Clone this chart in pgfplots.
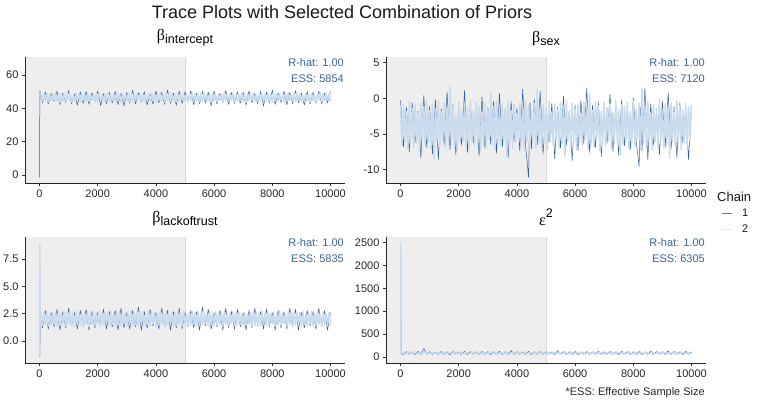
\documentclass[border=0pt]{standalone}
\usepackage{fontspec}
\setmainfont{Liberation Sans}
\newfontfamily\grk{Liberation Serif}
\usepackage{pgfplots}
\pgfplotsset{compat=1.18}
\definecolor{cdark}{HTML}{2F5E96}
\definecolor{clight}{HTML}{C9DCEE}
\definecolor{warm}{HTML}{EEEEEE}
\definecolor{warmedge}{HTML}{DADADA}
\definecolor{annot}{HTML}{3A639A}
\definecolor{legdark}{HTML}{5B80B0}
\definecolor{leglight}{HTML}{DCE8F4}
\pgfplotsset{
  trace/.style={
    scale only axis, width=320pt, height=126pt,
    axis lines*=left, axis on top,
    xmin=-500, xmax=10500, xtick={0,2000,4000,6000,8000,10000},
    scaled x ticks=false, scaled y ticks=false,
    tick align=outside, major tick length=3pt,
    tick style={black!80, line width=0.5pt},
    axis line style={black!85, line width=0.6pt},
    ticklabel style={font=\fontsize{11}{11}\selectfont, text=black!85},
    /pgf/number format/1000 sep={},
    /pgf/number format/assume math mode=true,
    title style={at={(0.5,1)}, anchor=south, inner sep=0pt, yshift=5pt},
    clip=true,
  },
  c1/.style={cdark, line width=0.5pt, line join=round},
  c2/.style={clight, line width=1.5pt, line join=round},
}
\newcommand{\annot}[1]{\node[anchor=north east, align=right, inner sep=0pt, font=\fontsize{11}{15.5}\selectfont, text=annot] at (rel axis cs:1,1) [xshift=-1pt, yshift=-1.5pt] {R-hat: 1.00\\ESS: #1};}
\newcommand{\bt}[1]{{\grk\fontsize{16}{16}\selectfont β}{\fontsize{12.5}{12.5}\selectfont\raisebox{-3pt}{#1}}}
\begin{document}
\begin{tikzpicture}
\path[use as bounding box] (0pt,0pt) rectangle (758pt,-401pt);
\node[anchor=base, font=\fontsize{18}{18}\selectfont, text=black!90] at (342pt,-18.5pt) {Trace Plots with Selected Combination of Priors};

% ---------- beta intercept
\begin{axis}[trace, at={(25pt,-183pt)}, anchor=south west,
  ymin=-4.8, ymax=70.8, ytick={0,20,40,60},
  title={\bt{intercept}}]
\fill[warm] (axis cs:-500,-4.8) rectangle (axis cs:5000,70.8);
\draw[warmedge, line width=0.6pt] (axis cs:5000,-4.8) -- (axis cs:5000,70.8);
\addplot[c1] coordinates {(0,-1.4)(10,50.6)(100,43.2)(200,49.8)(300,42.6)(400,48.9)(500,44.1)(600,50.3)(700,42.1)(800,49.2)(900,43.5)(1000,50.7)(1100,42.8)(1200,48.6)(1300,41.9)(1400,49.9)(1500,43.0)(1600,50.1)(1700,42.4)(1800,49.4)(1900,43.8)(2000,50.5)(2100,41.7)(2200,48.8)(2300,42.9)(2400,49.7)(2500,43.3)(2600,50.2)(2700,42.2)(2800,49.0)(2900,41.5)(3000,49.6)(3100,43.1)(3200,50.8)(3300,42.7)(3400,49.3)(3500,43.6)(3600,50.0)(3700,42.0)(3800,48.7)(3900,42.5)(4000,50.4)(4100,43.4)(4200,49.5)(4300,42.3)(4400,50.9)(4500,43.0)(4600,49.1)(4700,41.8)(4800,50.3)(4900,42.9)(5000,49.8)(5100,43.7)(5200,50.6)(5300,42.1)(5400,49.2)(5500,42.8)(5600,50.1)(5700,43.2)(5800,49.7)(5900,41.6)(6000,50.4)(6100,42.6)(6200,49.0)(6300,43.5)(6400,50.7)(6500,42.3)(6600,49.4)(6700,42.9)(6800,50.0)(6900,43.1)(7000,49.6)(7100,42.0)(7200,50.5)(7300,43.4)(7400,48.9)(7500,42.7)(7600,50.2)(7700,41.4)(7800,49.8)(7900,43.0)(8000,50.9)(8100,42.4)(8200,49.3)(8300,43.6)(8400,50.3)(8500,42.2)(8600,49.5)(8700,42.8)(8800,50.6)(8900,43.3)(9000,49.1)(9100,41.9)(9200,50.0)(9300,42.6)(9400,49.7)(9500,43.1)(9600,50.4)(9700,42.5)(9800,49.2)(9900,43.4)(10000,50.1)};
\addplot[c2] coordinates {(0,48.0)(50,48.9)(100,44.3)(150,48.2)(200,44.8)(250,49.1)(300,43.9)(350,47.9)(400,44.5)(450,48.6)(500,45.0)(550,49.3)(600,44.1)(650,48.0)(700,43.7)(750,48.7)(800,44.6)(850,49.0)(900,44.2)(950,48.3)(1000,44.9)(1050,48.8)(1100,43.8)(1150,47.8)(1200,44.4)(1250,49.2)(1300,45.1)(1350,48.4)(1400,44.0)(1450,48.9)(1500,44.7)(1550,48.1)(1600,43.9)(1650,49.4)(1700,44.3)(1750,48.5)(1800,44.8)(1850,48.0)(1900,44.1)(1950,48.8)(2000,43.6)(2050,49.1)(2100,44.5)(2150,48.2)(2200,45.0)(2250,48.7)(2300,44.2)(2350,49.0)(2400,43.8)(2450,47.9)(2500,44.6)(2550,48.6)(2600,44.0)(2650,49.3)(2700,44.9)(2750,48.3)(2800,43.7)(2850,48.9)(2900,44.4)(2950,48.1)(3000,44.8)(3050,48.5)(3100,44.1)(3150,49.2)(3200,43.9)(3250,48.0)(3300,44.6)(3350,48.8)(3400,45.2)(3450,49.0)(3500,44.3)(3550,48.4)(3600,43.8)(3650,47.9)(3700,44.7)(3750,48.7)(3800,44.0)(3850,49.1)(3900,44.5)(3950,48.2)(4000,43.9)(4050,48.6)(4100,44.9)(4150,49.3)(4200,44.2)(4250,48.0)(4300,43.7)(4350,48.9)(4400,44.6)(4450,48.4)(4500,44.1)(4550,49.0)(4600,44.8)(4650,48.1)(4700,43.8)(4750,48.7)(4800,44.4)(4850,49.2)(4900,45.0)(4950,48.3)(5000,44.0)(5050,48.8)(5100,43.9)(5150,47.8)(5200,44.7)(5250,49.0)(5300,44.3)(5350,48.5)(5400,44.6)(5450,48.2)(5500,43.8)(5550,48.9)(5600,44.1)(5650,49.3)(5700,44.9)(5750,48.1)(5800,44.2)(5850,48.6)(5900,43.7)(5950,49.1)(6000,44.5)(6050,48.4)(6100,44.0)(6150,48.0)(6200,44.8)(6250,48.8)(6300,43.9)(6350,49.2)(6400,44.6)(6450,48.3)(6500,44.2)(6550,48.7)(6600,45.1)(6650,49.0)(6700,43.8)(6750,47.9)(6800,44.4)(6850,48.5)(6900,44.7)(6950,49.1)(7000,44.0)(7050,48.2)(7100,43.6)(7150,48.8)(7200,44.5)(7250,48.4)(7300,44.9)(7350,49.3)(7400,44.1)(7450,48.0)(7500,43.9)(7550,48.6)(7600,44.6)(7650,48.9)(7700,44.3)(7750,48.3)(7800,44.8)(7850,49.0)(7900,44.0)(7950,48.1)(8000,43.7)(8050,48.7)(8100,44.5)(8150,49.2)(8200,44.2)(8250,48.4)(8300,45.0)(8350,48.0)(8400,43.8)(8450,48.8)(8500,44.4)(8550,49.1)(8600,44.7)(8650,48.2)(8700,44.1)(8750,48.6)(8800,43.9)(8850,49.3)(8900,44.6)(8950,48.5)(9000,44.3)(9050,47.9)(9100,44.8)(9150,48.9)(9200,44.0)(9250,48.3)(9300,43.8)(9350,49.0)(9400,44.5)(9450,48.1)(9500,44.2)(9550,48.7)(9600,44.9)(9650,49.2)(9700,43.9)(9750,48.4)(9800,44.4)(9850,48.8)(9900,44.7)(9950,48.6)(10000,44.1)};
\annot{5854}
\end{axis}

% ---------- beta sex
\begin{axis}[trace, at={(386pt,-183pt)}, anchor=south west,
  ymin=-11.9, ymax=5.8, ytick={-10,-5,0,5},
  title={\bt{sex}}]
\fill[warm] (axis cs:-500,-11.9) rectangle (axis cs:5000,5.8);
\draw[warmedge, line width=0.6pt] (axis cs:5000,-11.9) -- (axis cs:5000,5.8);
\addplot[c1] coordinates {(0,-0.3)(100,-6.8)(200,-1.2)(300,-7.5)(400,-0.6)(500,-6.2)(600,-1.8)(700,-8.4)(800,0.4)(900,-6.9)(1000,-1.1)(1100,-7.8)(1200,-0.2)(1300,-8.6)(1400,-1.5)(1500,-6.5)(1600,0.9)(1700,-7.2)(1800,-0.8)(1900,-7.9)(2000,-2.0)(2100,-6.6)(2200,1.1)(2300,-7.6)(2400,-0.9)(2500,-6.3)(2600,-1.7)(2700,-8.1)(2800,0.2)(2900,-7.0)(3000,-1.3)(3100,-6.4)(3200,-0.4)(3300,-7.7)(3400,0.7)(3500,-6.8)(3600,-1.9)(3700,-8.3)(3800,-0.5)(3900,-6.1)(4000,-1.4)(4100,-7.4)(4200,1.3)(4300,-6.7)(4400,-11.1)(4450,-0.6)(4500,-7.1)(4600,-0.1)(4700,-6.5)(4800,1.0)(4900,-7.8)(5000,-1.6)(5100,-6.2)(5200,-0.7)(5300,-8.5)(5400,-1.2)(5500,-7.0)(5600,0.3)(5700,-6.6)(5800,-1.8)(5900,-8.8)(6000,-0.9)(6100,-7.3)(6200,-0.3)(6300,-6.4)(6400,1.4)(6500,-7.6)(6600,-1.0)(6700,-6.9)(6800,-0.5)(6900,-8.2)(7000,-1.7)(7100,-6.3)(7200,0.6)(7300,-7.5)(7400,-1.1)(7500,-8.0)(7600,-0.2)(7700,-6.7)(7800,-1.5)(7900,-7.2)(8000,0.1)(8100,-6.0)(8200,-9.6)(8250,-1.3)(8300,-7.4)(8400,1.5)(8500,-8.7)(8600,-0.8)(8700,-6.6)(8800,-1.9)(8900,-7.9)(9000,-0.4)(9100,-6.8)(9200,0.8)(9300,-7.1)(9400,-1.2)(9500,-8.4)(9600,-0.6)(9700,-6.2)(9800,-1.6)(9900,-8.6)(10000,-1.0)};
\addplot[c2] coordinates {(0,-1.0)(50,-6.6)(100,-0.8)(150,-6.0)(200,-1.9)(250,-7.1)(300,-0.5)(350,-5.8)(400,-1.4)(450,-6.9)(500,-0.9)(550,-6.3)(600,-2.1)(650,-7.4)(700,-0.6)(750,-5.9)(800,-1.2)(850,-6.7)(900,-0.3)(950,-6.1)(1000,-1.7)(1050,-7.2)(1100,-0.8)(1150,-8.5)(1200,-1.5)(1250,-6.0)(1300,-0.4)(1350,-6.8)(1400,-1.9)(1450,-5.7)(1500,-0.7)(1550,-7.0)(1600,-1.3)(1650,-6.4)(1700,1.6)(1750,-5.8)(1800,-1.0)(1850,-6.9)(1900,-2.2)(1950,-7.3)(2000,-0.5)(2050,-6.2)(2100,-1.6)(2150,-5.9)(2200,-0.9)(2250,-6.6)(2300,-1.4)(2350,-7.1)(2400,-0.2)(2450,-6.0)(2500,-1.8)(2550,-6.8)(2600,-0.6)(2650,-5.7)(2700,-1.1)(2750,-7.4)(2800,-2.0)(2850,-6.3)(2900,-0.7)(2950,-6.9)(3000,-1.5)(3050,-5.8)(3100,0.9)(3150,-6.5)(3200,-1.2)(3250,-7.2)(3300,-0.4)(3350,-6.1)(3400,-1.9)(3450,-6.7)(3500,-0.8)(3550,-5.9)(3600,-1.3)(3650,-8.3)(3700,-0.5)(3750,-6.4)(3800,-1.7)(3850,-7.0)(3900,-0.9)(3950,-6.2)(4000,-2.1)(4050,-5.7)(4100,-0.6)(4150,-6.8)(4200,-1.4)(4250,-7.3)(4300,-0.3)(4350,-6.0)(4400,-1.0)(4450,-6.6)(4500,-1.8)(4550,-5.9)(4600,-0.7)(4650,-7.1)(4700,1.2)(4750,-6.3)(4800,-1.5)(4850,-6.9)(4900,-0.9)(4950,-5.8)(5000,-1.3)(5050,-7.2)(5100,-0.4)(5150,-6.1)(5200,-2.0)(5250,-6.7)(5300,-0.8)(5350,-5.7)(5400,-1.6)(5450,-7.0)(5500,-0.5)(5550,-6.4)(5600,-1.1)(5650,-8.2)(5700,-0.2)(5750,-6.0)(5800,-1.9)(5850,-6.8)(5900,-0.7)(5950,-5.9)(6000,-1.4)(6050,-7.3)(6100,-0.9)(6150,-6.2)(6200,-2.2)(6250,-6.6)(6300,-0.6)(6350,-5.8)(6400,-1.2)(6450,-7.1)(6500,0.6)(6550,-6.3)(6600,-1.7)(6650,-6.9)(6700,-0.4)(6750,-5.7)(6800,-1.0)(6850,-7.4)(6900,-1.8)(6950,-6.1)(7000,-0.5)(7050,-6.7)(7100,-1.3)(7150,-5.9)(7200,-0.8)(7250,-7.0)(7300,-2.0)(7350,-6.4)(7400,-0.3)(7450,-6.0)(7500,-1.6)(7550,-8.0)(7600,-0.9)(7650,-6.5)(7700,-1.1)(7750,-5.8)(7800,-0.6)(7850,-7.2)(7900,-1.9)(7950,-6.2)(8000,-0.4)(8050,-6.8)(8100,-1.5)(8150,-5.7)(8200,-0.7)(8250,-7.1)(8300,1.3)(8350,-6.3)(8400,-1.2)(8450,-6.9)(8500,-0.5)(8550,-5.9)(8600,-2.1)(8650,-7.3)(8700,-0.9)(8750,-6.0)(8800,-1.4)(8850,-6.6)(8900,-0.2)(8950,-5.8)(9000,-1.7)(9050,-7.0)(9100,-0.8)(9150,-6.4)(9200,-1.3)(9250,-8.4)(9300,-0.6)(9350,-6.1)(9400,-1.9)(9450,-6.7)(9500,-0.4)(9550,-5.9)(9600,-1.0)(9650,-7.2)(9700,-1.6)(9750,-6.3)(9800,-0.7)(9850,-6.8)(9900,-1.2)(9950,-6.0)(10000,-0.9)};
\annot{7120}
\end{axis}

% ---------- beta lackoftrust
\begin{axis}[trace, at={(25pt,-363pt)}, anchor=south west,
  ymin=-2.0, ymax=9.5, ytick={0,2.5,5,7.5},
  yticklabel style={/pgf/number format/.cd, fixed, fixed zerofill, precision=1},
  title={\bt{lackoftrust}}]
\fill[warm] (axis cs:-500,-2.0) rectangle (axis cs:5000,9.5);
\draw[warmedge, line width=0.6pt] (axis cs:5000,-2.0) -- (axis cs:5000,9.5);
\addplot[c1] coordinates {(0,8.6)(10,-1.4)(30,2.7)(100,1.2)(200,2.8)(300,1.1)(400,2.6)(500,1.3)(600,2.9)(700,1.0)(800,2.7)(900,1.2)(1000,3.0)(1100,1.4)(1200,2.6)(1300,1.1)(1400,2.8)(1500,1.3)(1600,2.9)(1700,1.0)(1800,2.7)(1900,1.2)(2000,2.6)(2100,1.4)(2200,2.9)(2300,1.1)(2400,2.7)(2500,1.3)(2600,2.8)(2700,1.0)(2800,3.0)(2900,1.2)(3000,2.6)(3100,1.1)(3200,2.8)(3300,1.3)(3400,3.1)(3500,1.0)(3600,2.7)(3700,1.2)(3800,2.9)(3900,1.4)(4000,2.6)(4100,1.1)(4200,3.0)(4300,1.3)(4400,2.8)(4500,1.0)(4600,2.7)(4700,1.2)(4800,3.0)(4900,1.1)(5000,2.6)(5100,1.3)(5200,2.8)(5300,1.2)(5400,2.7)(5500,1.0)(5600,3.1)(5700,1.4)(5800,2.9)(5900,1.1)(6000,2.6)(6100,1.3)(6200,2.8)(6300,1.0)(6400,3.0)(6500,1.2)(6600,2.7)(6700,1.1)(6800,2.9)(6900,1.3)(7000,2.6)(7100,1.0)(7200,2.8)(7300,1.2)(7400,3.0)(7500,1.4)(7600,2.7)(7700,1.1)(7800,2.9)(7900,1.3)(8000,2.6)(8100,1.0)(8200,2.8)(8300,1.2)(8400,2.7)(8500,1.1)(8600,3.0)(8700,1.3)(8800,2.9)(8900,1.0)(9000,2.6)(9100,1.2)(9200,2.8)(9300,1.4)(9400,2.7)(9500,1.1)(9600,3.0)(9700,1.3)(9800,2.8)(9900,1.0)(10000,2.6)};
\addplot[c2] coordinates {(0,-1.3)(10,8.8)(30,1.5)(50,2.62)(100,1.41)(150,2.55)(200,1.52)(250,2.70)(300,1.36)(350,2.48)(400,1.47)(450,2.66)(500,1.55)(550,2.58)(600,1.33)(650,2.73)(700,1.44)(750,2.51)(800,1.58)(850,2.64)(900,1.39)(950,2.46)(1000,1.50)(1050,2.69)(1100,1.42)(1150,2.57)(1200,1.35)(1250,2.72)(1300,1.53)(1350,2.50)(1400,1.45)(1450,2.63)(1500,1.38)(1550,2.55)(1600,1.56)(1650,2.68)(1700,1.31)(1750,2.47)(1800,1.49)(1850,2.65)(1900,1.43)(1950,2.59)(2000,1.54)(2050,2.71)(2100,1.37)(2150,2.52)(2200,1.46)(2250,2.67)(2300,1.57)(2350,2.49)(2400,1.40)(2450,2.74)(2500,1.51)(2550,2.56)(2600,1.34)(2650,2.62)(2700,1.48)(2750,2.70)(2800,1.44)(2850,2.53)(2900,1.59)(2950,2.66)(3000,1.36)(3050,2.48)(3100,1.52)(3150,2.73)(3200,1.41)(3250,2.58)(3300,1.47)(3350,2.64)(3400,1.33)(3450,2.51)(3500,1.55)(3550,2.69)(3600,1.39)(3650,2.46)(3700,1.50)(3750,2.72)(3800,1.42)(3850,2.57)(3900,1.58)(3950,2.63)(4000,1.35)(4050,2.50)(4100,1.45)(4150,2.68)(4200,1.53)(4250,2.55)(4300,1.38)(4350,2.71)(4400,1.49)(4450,2.47)(4500,1.56)(4550,2.65)(4600,1.32)(4650,2.59)(4700,1.43)(4750,2.74)(4800,1.51)(4850,2.52)(4900,1.37)(4950,2.67)(5000,1.54)(5050,2.49)(5100,1.40)(5150,2.62)(5200,1.46)(5250,2.70)(5300,1.57)(5350,2.56)(5400,1.34)(5450,2.64)(5500,1.48)(5550,2.53)(5600,1.44)(5650,2.73)(5700,1.59)(5750,2.48)(5800,1.36)(5850,2.66)(5900,1.52)(5950,2.58)(6000,1.41)(6050,2.69)(6100,1.47)(6150,2.51)(6200,1.55)(6250,2.63)(6300,1.33)(6350,2.72)(6400,1.50)(6450,2.46)(6500,1.39)(6550,2.57)(6600,1.58)(6650,2.68)(6700,1.42)(6750,2.55)(6800,1.45)(6850,2.71)(6900,1.53)(6950,2.50)(7000,1.35)(7050,2.65)(7100,1.49)(7150,2.47)(7200,1.56)(7250,2.62)(7300,1.38)(7350,2.74)(7400,1.43)(7450,2.59)(7500,1.51)(7550,2.52)(7600,1.37)(7650,2.67)(7700,1.54)(7750,2.49)(7800,1.40)(7850,2.70)(7900,1.46)(7950,2.56)(8000,1.57)(8050,2.64)(8100,1.34)(8150,2.53)(8200,1.48)(8250,2.73)(8300,1.44)(8350,2.58)(8400,1.59)(8450,2.48)(8500,1.36)(8550,2.66)(8600,1.52)(8650,2.61)(8700,1.41)(8750,2.69)(8800,1.47)(8850,2.51)(8900,1.55)(8950,2.63)(9000,1.33)(9050,2.72)(9100,1.50)(9150,2.46)(9200,1.39)(9250,2.57)(9300,1.58)(9350,2.68)(9400,1.42)(9450,2.55)(9500,1.45)(9550,2.71)(9600,1.53)(9650,2.50)(9700,1.35)(9750,2.65)(9800,1.49)(9850,2.47)(9900,1.56)(9950,2.62)(10000,1.44)};
\annot{5835}
\end{axis}

% ---------- epsilon^2
\begin{axis}[trace, at={(386pt,-363pt)}, anchor=south west,
  ymin=-131, ymax=2618, ytick={0,500,1000,1500,2000,2500},
  title={{\grk\fontsize{16}{16}\selectfont ε}{\fontsize{12.5}{12.5}\selectfont\raisebox{8.5pt}{2}}}]
\fill[warm] (axis cs:-500,-131) rectangle (axis cs:5000,2618);
\draw[warmedge, line width=0.6pt] (axis cs:5000,-131) -- (axis cs:5000,2618);
\addplot[c1] coordinates {(0,2480)(8,2120)(20,70)(100,55)(200,118)(300,60)(400,112)(500,52)(600,120)(700,58)(800,185)(900,62)(1000,115)(1100,54)(1200,110)(1300,61)(1400,122)(1500,56)(1600,114)(1700,50)(1800,119)(1900,63)(2000,111)(2100,57)(2200,124)(2300,53)(2400,116)(2500,60)(2600,113)(2700,55)(2800,121)(2900,59)(3000,117)(3100,51)(3200,112)(3300,62)(3400,125)(3500,56)(3600,115)(3700,58)(3800,140)(3900,54)(4000,118)(4100,61)(4200,111)(4300,57)(4400,123)(4500,52)(4600,114)(4700,60)(4800,120)(4900,55)(5000,116)(5100,59)(5200,112)(5300,53)(5400,138)(5500,62)(5600,117)(5700,56)(5800,113)(5900,58)(6000,121)(6100,51)(6200,115)(6300,60)(6400,119)(6500,54)(6600,112)(6700,61)(6800,124)(6900,57)(7000,114)(7100,55)(7200,118)(7300,59)(7400,111)(7500,52)(7600,122)(7700,62)(7800,116)(7900,56)(8000,113)(8100,58)(8200,120)(8300,53)(8400,115)(8500,60)(8600,126)(8700,55)(8800,117)(8900,61)(9000,112)(9100,57)(9200,132)(9300,54)(9400,118)(9500,59)(9600,114)(9700,52)(9800,121)(9900,62)(10000,115)};
\addplot[c2] coordinates {(0,90)(5,2500)(15,85)(50,106)(150,67)(250,103)(350,71)(450,108)(550,65)(650,101)(750,69)(850,105)(950,72)(1050,102)(1150,66)(1250,107)(1350,70)(1450,104)(1550,64)(1650,100)(1750,68)(1850,106)(1950,71)(2050,103)(2150,67)(2250,108)(2350,65)(2450,101)(2550,70)(2650,105)(2750,69)(2850,102)(2950,72)(3050,107)(3150,66)(3250,104)(3350,68)(3450,100)(3550,71)(3650,106)(3750,64)(3850,103)(3950,69)(4050,108)(4150,67)(4250,101)(4350,72)(4450,105)(4550,66)(4650,102)(4750,70)(4850,107)(4950,65)(5050,104)(5150,68)(5250,100)(5350,71)(5450,106)(5550,67)(5650,103)(5750,69)(5850,108)(5950,64)(6050,101)(6150,70)(6250,105)(6350,66)(6450,102)(6550,72)(6650,107)(6750,68)(6850,104)(6950,65)(7050,100)(7150,71)(7250,106)(7350,67)(7450,103)(7550,69)(7650,108)(7750,66)(7850,101)(7950,70)(8050,105)(8150,64)(8250,102)(8350,72)(8450,107)(8550,68)(8650,104)(8750,65)(8850,100)(8950,71)(9050,106)(9150,67)(9250,103)(9350,69)(9450,108)(9550,66)(9650,101)(9750,70)(9850,105)(9950,68)};
\annot{6305}
\end{axis}

% ---------- legend
\node[anchor=west, inner sep=0pt, font=\fontsize{13}{13}\selectfont, text=black!90] at (717pt,-197pt) {Chain};
\draw[legdark, line width=0.9pt] (722pt,-213pt) -- (732pt,-213pt);
\node[anchor=west, inner sep=0pt, font=\fontsize{11}{11}\selectfont, text=black!90] at (742pt,-213pt) {1};
\draw[leglight, line width=0.9pt] (722pt,-229pt) -- (732pt,-229pt);
\node[anchor=west, inner sep=0pt, font=\fontsize{11}{11}\selectfont, text=black!90] at (742pt,-229pt) {2};
% ---------- caption
\node[anchor=east, inner sep=0pt, font=\fontsize{11}{11}\selectfont, text=black!85] at (705pt,-392.5pt) {*ESS: Effective Sample Size};
\end{tikzpicture}
\end{document}
